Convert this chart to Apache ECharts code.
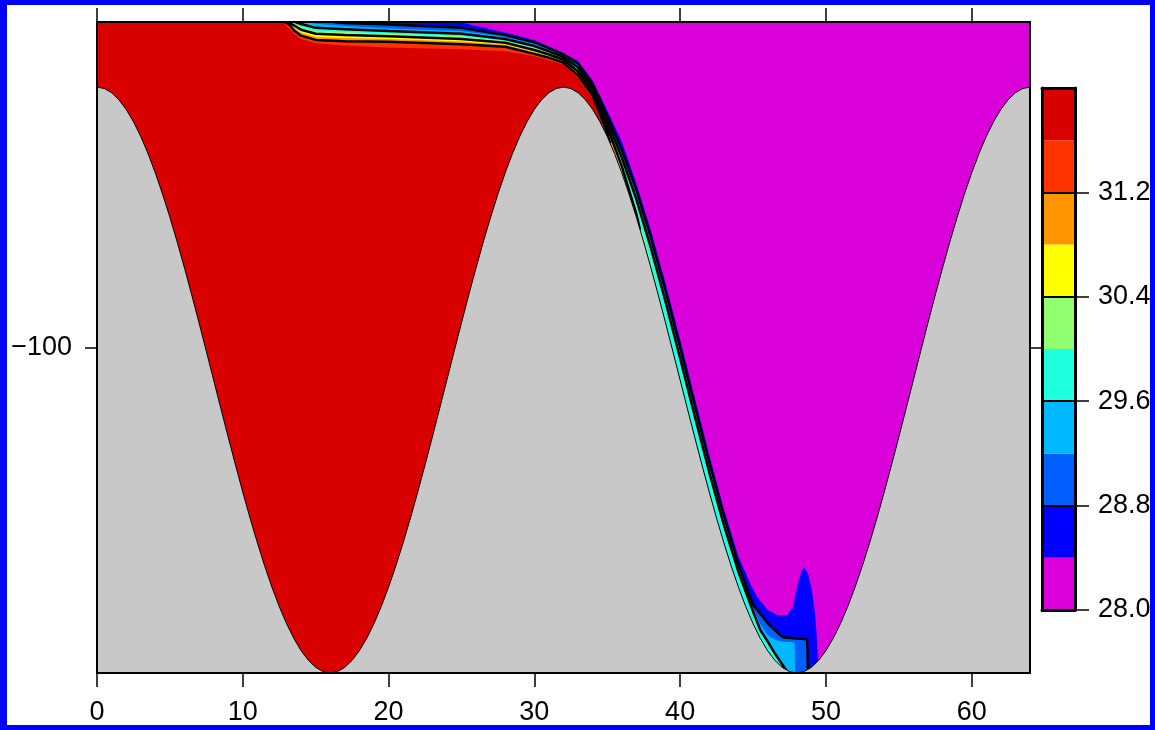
<!DOCTYPE html>
<html><head><meta charset="utf-8">
<script src="https://cdn.jsdelivr.net/npm/echarts@6/dist/echarts.min.js"></script>
<style>html,body{margin:0;padding:0;background:#fff}#c{width:1155px;height:730px}</style>
</head><body><div id="c"></div>
<script>
// ---- colour levels (colour bar) ----
const levels = [28.0, 28.4, 28.8, 29.2, 29.6, 30.0, 30.4, 30.8, 31.2, 31.6, 32.0];
const bandColors = ['#d900d9', '#0000ff', '#0060ff', '#00b8ff', '#20ffe0', '#90ff70', '#ffff00', '#ff9600', '#ff3300', '#d90000'];
const contourLevels = [28.8, 29.6, 30.4, 31.2];
const barTicks = [28.0, 28.8, 29.6, 30.4, 31.2];
const xTicks = [0, 10, 20, 30, 40, 50, 60];
const yTicks = [-100];

// ---- bottom topography, depth every 0.5 in x from 0 to 64 ----
const bathyStep = 0.5;
const bathyDepth = [
 -20.00,-20.43,-21.73,-23.88,-26.85,-30.63,-35.17,-40.43,-46.36,-52.90,-60.00,-67.57,-75.56,-83.87,-92.44,-101.18,
 -110.00,-118.82,-127.56,-136.13,-144.44,-152.43,-160.00,-167.10,-173.64,-179.57,-184.83,-189.37,-193.15,-196.12,-198.27,-199.57,
 -200.00,-199.57,-198.27,-196.12,-193.15,-189.37,-184.83,-179.57,-173.64,-167.10,-160.00,-152.43,-144.44,-136.13,-127.56,-118.82,
 -110.00,-101.18,-92.44,-83.87,-75.56,-67.57,-60.00,-52.90,-46.36,-40.43,-35.17,-30.63,-26.85,-23.88,-21.73,-20.43,
 -20.00,-20.43,-21.73,-23.88,-26.85,-30.63,-35.17,-40.43,-46.36,-52.90,-60.00,-67.57,-75.56,-83.87,-92.44,-101.18,
 -110.00,-118.82,-127.56,-136.13,-144.44,-152.43,-160.00,-167.10,-173.64,-179.57,-184.83,-189.37,-193.15,-196.12,-198.27,-199.57,
 -200.00,-199.57,-198.27,-196.12,-193.15,-189.37,-184.83,-179.57,-173.64,-167.10,-160.00,-152.43,-144.44,-136.13,-127.56,-118.82,
 -110.00,-101.18,-92.44,-83.87,-75.56,-67.57,-60.00,-52.90,-46.36,-40.43,-35.17,-30.63,-26.85,-23.88,-21.73,-20.43,-20.00
];

// ---- isoline positions [x, depth] of each level (water warmer than the level lies below/left) ----
const iface284 = [[0,0],[24.9,0],[26,-1.2],[28,-3.2],[30,-5.5],[31,-7.5],[32,-9.5],[33,-12.0],[34,-18.0],[35,-27.17],[36,-36.76],[37,-49.6],[38,-64.06],[39,-80.24],[40,-97.5],[41,-115.36],[42,-132.94],[43,-149.6],[44,-164.24],[44.8,-172.4],[45.3,-176.7],[46.0,-180.6],[46.65,-182.2],[47.33,-182.2],[47.74,-179.7],[48.08,-172.4],[48.36,-168.4],[48.49,-167.4],[48.76,-169.3],[49.04,-174.5],[49.25,-181.6],[49.39,-189.9],[49.45,-196.5],[49.5,-200]];
const iface288 = [[0,0],[16.2,0],[17,-0.3],[20,-0.8],[25,-1.8],[28,-4.0],[30,-6.2],[31,-8.0],[32,-10.0],[33,-12.8],[34,-19.0],[35,-28.77],[36,-39.26],[37,-51.6],[38,-66.26],[39,-82.54],[40,-99.9],[41,-117.66],[42,-135.14],[43,-151.6],[44,-166.54],[45,-179.0],[45.5,-181.8],[46.0,-184.6],[46.3,-186.0],[46.7,-187.7],[47.06,-189.0],[48.0,-189.4],[48.7,-189.6],[48.74,-193.0],[48.76,-200]];
const iface292 = [[0,0],[14.4,0],[15,-0.5],[17,-1.2],[20,-2.0],[25,-2.8],[28,-4.6],[30,-6.8],[31,-8.5],[32,-10.4],[33,-13.4],[34,-19.6],[35,-29.57],[36,-40.46],[37,-53.0],[38,-67.86],[39,-84.24],[40,-101.6],[41,-119.36],[42,-136.74],[43,-153.0],[44,-167.74],[45,-180.1],[45.5,-185.0],[46.0,-188.3],[46.5,-189.8],[47.0,-190.3],[47.5,-190.5],[47.85,-190.6],[47.9,-200]];
const iface296 = [[0,0],[13.6,0],[14,-0.6],[15,-1.8],[17,-2.2],[20,-2.8],[25,-3.6],[28,-5.2],[30,-7.4],[31,-9.0],[32,-10.8],[33,-14.0],[34,-20.2],[35,-30.37],[36,-41.66],[37,-54.5],[38,-69.46],[39,-85.94],[40,-103.3],[41,-121.06],[42,-138.34],[43,-154.5],[44,-168.94],[45,-181.1],[45.5,-186.8],[46.0,-190.3],[46.5,-194.0],[47.0,-197.3],[47.3,-199.4]];
const iface300 = [[0,0],[13.3,0],[14,-1.5],[15,-2.7],[17,-3.1],[20,-3.6],[25,-4.4],[28,-5.8],[30,-8.0],[31,-9.5],[32,-11.2],[33,-14.6],[34,-20.8],[35,-31.37],[36,-43.16],[37,-57.8],[38,-74.06],[38.6,-85.6]];
const iface304 = [[0,0],[13.1,0],[13.5,-1.0],[14,-2.4],[15,-3.6],[17,-4.0],[20,-4.4],[25,-5.2],[28,-6.4],[30,-8.6],[31,-10.0],[32,-11.6],[33,-15.2],[34,-21.4],[35,-32.17],[36,-44.36],[37,-59.0],[37.25,-63.8]];
const iface308 = [[0,0],[13.0,0],[13.5,-1.7],[14,-3.3],[15,-4.6],[17,-4.9],[20,-5.2],[25,-6.0],[28,-7.0],[30,-9.2],[31,-10.5],[32,-12.0],[33,-15.8],[34,-22.0],[35,-32.97],[35.5,-39.2],[36,-46.36]];
const iface312 = [[0,0],[12.9,0],[13.2,-0.8],[13.5,-2.5],[14,-4.2],[15,-5.5],[17,-5.9],[20,-6.1],[25,-6.8],[28,-7.6],[30,-9.8],[31,-11.0],[32,-12.5],[33,-16.4],[34,-22.6],[35,-33.97],[35.2,-37.27]];
const iface316 = [[0,0],[12.8,0],[13,-1.3],[13.5,-3.5],[14,-5.2],[15,-6.5],[17,-7.2],[20,-7.8],[25,-8.4],[28,-9.0],[30,-10.5],[31,-11.8],[32,-13.0],[33,-17.2],[34,-23.5],[34.5,-29.0],[34.8,-33.3]];

const interfaces = [iface284, iface288, iface292, iface296, iface300, iface304, iface308, iface312, iface316];
const ifaceLevels = [28.4, 28.8, 29.2, 29.6, 30.0, 30.4, 30.8, 31.2, 31.6];

// ---------------------------------------------------------------
const FONT = 'Liberation Sans, Arial, sans-serif';
const chart = echarts.init(document.getElementById('c'), null, {renderer: 'canvas'});
const bathy = bathyDepth.map((d, i) => [i * bathyStep, d]);
const fromSurface = pts => { let i = 0; while (i + 1 < pts.length && pts[i + 1][1] === 0) i++; return pts.slice(i); };

const series = [];
// base water (coolest class)
series.push({type: 'line', xAxisIndex: 0, yAxisIndex: 0, data: [[0, 0], [64, 0]], symbol: 'none', silent: true,
  lineStyle: {opacity: 0}, areaStyle: {color: bandColors[0], opacity: 1, origin: 'start'}, z: 2});
interfaces.forEach((pts, k) => {
  series.push({type: 'line', xAxisIndex: 0, yAxisIndex: 0, data: pts, symbol: 'none', silent: true,
    lineStyle: {opacity: 0}, areaStyle: {color: bandColors[k + 1], opacity: 1, origin: 'start'}, z: 2});
});
interfaces.forEach((pts, k) => {
  if (contourLevels.indexOf(ifaceLevels[k]) < 0) return;
  series.push({type: 'line', xAxisIndex: 0, yAxisIndex: 0, data: fromSurface(pts), symbol: 'none', silent: true,
    lineStyle: {color: '#000', width: 2.5}, z: 3});
});
// topography
series.push({type: 'line', xAxisIndex: 0, yAxisIndex: 0, data: bathy, symbol: 'none', silent: true,
  lineStyle: {color: '#000', width: 1}, areaStyle: {color: '#c8c8c8', opacity: 1, origin: 'start'}, z: 4});
// colour bar
const barData = bandColors.map((c, i) => [levels[i], levels[i + 1], i]);
series.push({type: 'custom', xAxisIndex: 2, yAxisIndex: 2, data: barData, silent: true, z: 2,
  renderItem: (params, api) => {
    const p0 = api.coord([0, api.value(1)]);
    const p1 = api.coord([1, api.value(0)]);
    return {type: 'rect', shape: {x: p0[0], y: p0[1], width: p1[0] - p0[0], height: p1[1] - p0[1]},
      style: {fill: bandColors[api.value(2)]}};
  }});

const blackLine = w => ({show: true, onZero: false, lineStyle: {color: '#000', width: w}});
const noTick = {show: false};
const option = {
  animation: false,
  backgroundColor: '#ffffff',
  grid: [
    {left: 97, top: 22, width: 933, height: 651},
    {left: 1042, top: 88, width: 33, height: 522}
  ],
  xAxis: [
    {gridIndex: 0, type: 'value', min: 0, max: 64, interval: 10, position: 'bottom', z: 10,
      axisLine: blackLine(2), splitLine: {show: false},
      axisTick: {show: true, customValues: xTicks, length: 14, lineStyle: {color: '#000', width: 1.5}},
      axisLabel: {show: true, customValues: xTicks, fontSize: 27, fontFamily: FONT, color: '#000', margin: 26}},
    {gridIndex: 0, type: 'value', min: 0, max: 64, interval: 10, position: 'top', z: 10,
      axisLine: blackLine(2), splitLine: {show: false},
      axisTick: {show: true, customValues: xTicks, length: 14, lineStyle: {color: '#000', width: 1.5}},
      axisLabel: {show: false}},
    {gridIndex: 1, type: 'value', min: 0, max: 1, position: 'bottom', z: 10,
      axisLine: blackLine(3), splitLine: {show: false}, axisTick: noTick, axisLabel: {show: false}},
    {gridIndex: 1, type: 'value', min: 0, max: 1, position: 'top', z: 10,
      axisLine: blackLine(3), splitLine: {show: false}, axisTick: noTick, axisLabel: {show: false}}
  ],
  yAxis: [
    {gridIndex: 0, type: 'value', min: -200, max: 0, interval: 100, position: 'left', z: 10,
      axisLine: blackLine(2), splitLine: {show: false},
      axisTick: {show: true, customValues: yTicks, length: 12, lineStyle: {color: '#000', width: 1.5}},
      axisLabel: {show: true, customValues: yTicks, fontSize: 27, fontFamily: FONT, color: '#000', margin: 25,
        formatter: v => String(v).replace('-', '\u2212')}},
    {gridIndex: 0, type: 'value', min: -200, max: 0, interval: 100, position: 'right', z: 10,
      axisLine: blackLine(2), splitLine: {show: false},
      axisTick: {show: true, customValues: yTicks, length: 13, lineStyle: {color: '#000', width: 1.5}},
      axisLabel: {show: false}},
    {gridIndex: 1, type: 'value', min: 28, max: 32, interval: 0.8, position: 'right', z: 10,
      axisLine: blackLine(3),
      splitLine: {show: true, lineStyle: {color: '#000', width: 2}},
      axisTick: {show: true, customValues: barTicks, length: 14, lineStyle: {color: '#000', width: 1.5}},
      axisLabel: {show: true, customValues: barTicks, fontSize: 27, fontFamily: FONT, color: '#000', margin: 23,
        formatter: v => Number(v).toFixed(1)}},
    {gridIndex: 1, type: 'value', min: 28, max: 32, interval: 0.8, position: 'left', z: 10,
      axisLine: blackLine(3), splitLine: {show: false}, axisTick: noTick, axisLabel: {show: false}}
  ],
  graphic: [
    {type: 'rect', shape: {x: 0, y: 0, width: 7, height: 730}, style: {fill: '#0000ff'}, silent: true, z: 100},
    {type: 'rect', shape: {x: 0, y: 0, width: 1155, height: 5}, style: {fill: '#0000ff'}, silent: true, z: 100},
    {type: 'rect', shape: {x: 0, y: 725, width: 1155, height: 5}, style: {fill: '#0000ff'}, silent: true, z: 100},
    {type: 'rect', shape: {x: 1150, y: 0, width: 5, height: 730}, style: {fill: '#0000ff'}, silent: true, z: 100}
  ],
  series: series
};
chart.setOption(option);
</script>
</body></html>
